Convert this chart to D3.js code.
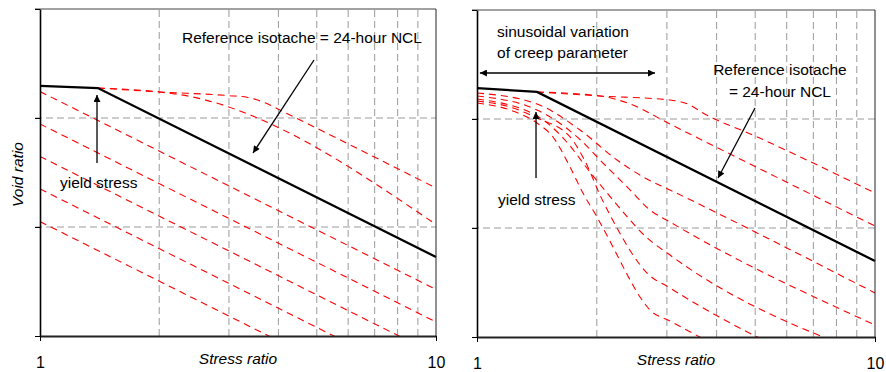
<!DOCTYPE html>
<html>
<head>
<meta charset="utf-8">
<script src="https://cdn.jsdelivr.net/npm/d3@7"></script>
<style>
body { margin: 0; background: #fff; }
svg text { font-family: "Liberation Sans", Arial, sans-serif; fill: #000; }
</style>
</head>
<body>
<svg id="chart" width="886" height="372"></svg>
<script>
// Ejes: stress ratio (log) y void ratio (lineal, sin numeros)
const xDomain = [1, 10]
const xTickValues = [1, 10]
const xGridValues = [2, 3, 4, 5, 6, 7, 8, 9]
const yDomain = [0, 3]
const yTickValues = [0, 1, 2, 3]
const yGridValues = [1, 2]

// Panel izquierdo: [stress ratio, void ratio]
const leftNcl = [[1, 2.294], [1.4, 2.275], [10, 0.725]]
const leftIsotaches = [
  [[1.4, 2.275], [2, 2.239], [3, 2.205], [3.333, 2.19], [3.7, 2.14], [4.156, 2.05], [10, 1.358]],
  [[1.4, 2.275], [2, 2.239], [2.25, 2.215], [10, 1.023]],
  [[1, 2.243], [10, 0.427]],
  [[1, 1.945], [10, 0.129]],
  [[1, 1.647], [10, -0.170]],
  [[1, 1.349], [10, -0.468]],
  [[1, 1.050], [10, -0.767]]
]

// Panel derecho (parametro de creep sinusoidal)
const rightNcl = [[1, 2.284], [1.415, 2.248], [10, 0.697]]
const rightIsotaches = [
  [[1.415, 2.248], [2.037, 2.211], [3.054, 2.174], [3.429, 2.128], [3.697, 2.055], [4.937, 1.853], [10, 1.321]],
  [[1.415, 2.248], [2.037, 2.211], [2.424, 2.138], [3.054, 1.954], [10, 1.018]],
  [[1, 2.239], [1.415, 2.138], [1.815, 1.899], [2.248, 1.624], [2.643, 1.459], [3.054, 1.349], [10, 0.404]],
  [[1, 2.211], [1.415, 2.083], [1.763, 1.853], [2.097, 1.578], [2.424, 1.349], [2.721, 1.165], [3.054, 1.055], [10, 0.110]],
  [[1, 2.183], [1.415, 2.028], [1.664, 1.807], [1.922, 1.514], [2.196, 1.257], [2.424, 1.073], [2.643, 0.927], [3.054, 0.752], [10, -0.183]],
  [[1, 2.165], [1.210, 2.110], [1.415, 2.009], [1.713, 1.835], [1.889, 1.578], [2.037, 1.303], [2.248, 1.000], [2.466, 0.752], [2.674, 0.587], [3.054, 0.450], [10, -0.491]],
  [[1, 2.147], [1.210, 2.083], [1.415, 1.963], [1.552, 1.835], [1.713, 1.560], [1.846, 1.321], [2.002, 1.101], [2.196, 0.826], [2.424, 0.523], [2.568, 0.367], [2.721, 0.248], [3.054, 0.147], [10, -0.794]]
]

svg = d3.select('#chart')

// flecha
defs = svg.append('defs')
defs.append('marker')
  .attr('id', 'head')
  .attr('viewBox', '0 0 10 10')
  .attr('refX', 10).attr('refY', 5)
  .attr('markerWidth', 9).attr('markerHeight', 7)
  .attr('markerUnits', 'userSpaceOnUse')
  .attr('orient', 'auto-start-reverse')
  .append('path').attr('d', 'M0,0 L10,5 L0,10 Z').attr('fill', '#000')

function panel(id, box, ncl, isotaches) {
  x = d3.scaleLog().domain(xDomain).range([box.x0, box.x1])
  y = d3.scaleLinear().domain(yDomain).range([box.y0, box.y1])
  g = svg.append('g')

  defs.append('clipPath').attr('id', 'clip' + id)
    .append('rect')
    .attr('x', box.x0).attr('y', box.y1)
    .attr('width', box.x1 - box.x0).attr('height', box.y0 - box.y1)

  // rejilla
  g.selectAll('.gx').data(xGridValues).join('line')
    .attr('x1', d => x(d)).attr('x2', d => x(d))
    .attr('y1', y(yDomain[0])).attr('y2', y(yDomain[1]))
    .attr('stroke', '#9a9a9a').attr('stroke-width', 1).attr('stroke-dasharray', '7,4')
  g.selectAll('.gy').data(yGridValues).join('line')
    .attr('x1', box.x0 - 5).attr('x2', box.x1)
    .attr('y1', d => y(d)).attr('y2', d => y(d))
    .attr('stroke', '#9a9a9a').attr('stroke-width', 1).attr('stroke-dasharray', '7,4')

  linea = d3.line().x(d => x(d[0])).y(d => y(d[1]))

  // isotachs rojas
  g.append('g').attr('clip-path', `url(#clip${id})`)
    .selectAll('path').data(isotaches).join('path')
    .attr('d', linea.curve(d3.curveMonotoneX))
    .attr('fill', 'none')
    .attr('stroke', '#ff0000')
    .attr('stroke-width', 1.1)
    .attr('stroke-dasharray', '7,5')

  // NCL de referencia
  g.append('path').datum(ncl)
    .attr('d', d3.line().x(d => x(d[0])).y(d => y(d[1])))
    .attr('fill', 'none').attr('stroke', '#000').attr('stroke-width', 2.3)

  // marco
  g.append('line').attr('x1', box.x0 - 5).attr('x2', box.x1)
    .attr('y1', y(yDomain[1])).attr('y2', y(yDomain[1]))
    .attr('stroke', '#444').attr('stroke-width', 1)
  g.append('line').attr('x1', box.x1).attr('x2', box.x1)
    .attr('y1', y(yDomain[1])).attr('y2', y(yDomain[0]))
    .attr('stroke', '#222').attr('stroke-width', 1)

  yAxis = g.append('g').attr('transform', `translate(${box.x0},0)`)
    .call(d3.axisLeft(y).tickValues(yTickValues).tickFormat('').tickSize(5).tickSizeOuter(0))
  yAxis.select('.domain').attr('stroke', '#000').attr('stroke-width', 1.6)

  xAxis = g.append('g').attr('transform', `translate(0,${box.y0})`)
    .call(d3.axisBottom(x).tickValues(xTickValues).tickFormat(d3.format('d')).tickSize(5).tickSizeOuter(0).tickPadding(16))
  xAxis.select('.domain').attr('stroke', '#222').attr('stroke-width', 2.2)
  xAxis.selectAll('text').attr('font-size', '16px').attr('font-family', '"Liberation Sans", Arial, sans-serif')

  // titulos de ejes
  g.append('text')
    .attr('x', (box.x0 + box.x1) / 2).attr('y', box.y0 + 28)
    .attr('text-anchor', 'middle').attr('font-size', '15.5px').attr('font-style', 'italic')
    .text('Stress ratio')

  yLab = g.append('text')
    .attr('transform', `translate(${box.x0 - 17},${(box.y0 + box.y1) / 2 + 2}) rotate(-90)`)
    .attr('text-anchor', 'middle').attr('font-size', '15.5px').attr('font-style', 'italic')
    .text('Void ratio')

  return { g: g, x: x, y: y, yLab: yLab }
}

function flecha(p, from, to) {
  p.g.append('line')
    .attr('x1', p.x(from[0])).attr('y1', p.y(from[1]))
    .attr('x2', p.x(to[0])).attr('y2', p.y(to[1]))
    .attr('stroke', '#000').attr('stroke-width', 1.3)
    .attr('marker-end', 'url(#head)')
}

function texto(p, at, s, anchor) {
  p.g.append('text')
    .attr('x', p.x(at[0])).attr('y', p.y(at[1]))
    .attr('text-anchor', anchor || 'start')
    .attr('font-size', '15.5px')
    .text(s)
}

/******** Panel izquierdo ********/
pl = panel('L', { x0: 40, x1: 436, y0: 336, y1: 9 }, leftNcl, leftIsotaches)
texto(pl, [4.587, 2.688], 'Reference isotache = 24-hour NCL', 'middle')
flecha(pl, [4.92, 2.532], [3.451, 1.679])
flecha(pl, [1.393, 1.587], [1.393, 2.211])
texto(pl, [1.123, 1.358], 'yield stress')

/******** Panel derecho ********/
pr = panel('R', { x0: 477, x1: 875, y0: 337, y1: 10 }, rightNcl, rightIsotaches)
texto(pr, [1.123, 2.752], 'sinusoidal variation')
texto(pr, [1.123, 2.560], 'of creep parameter')
pr.g.append('line')
  .attr('x1', pr.x(1.017)).attr('x2', pr.x(2.8))
  .attr('y1', pr.y(2.422)).attr('y2', pr.y(2.422))
  .attr('stroke', '#000').attr('stroke-width', 1.3)
  .attr('marker-start', 'url(#head)').attr('marker-end', 'url(#head)')
texto(pr, [5.77, 2.404], 'Reference isotache', 'middle')
texto(pr, [5.77, 2.202], '= 24-hour NCL', 'middle')
flecha(pr, [4.995, 2.101], [4.033, 1.459])
flecha(pr, [1.407, 1.459], [1.407, 2.064])
texto(pr, [1.129, 1.211], 'yield stress')

// la etiqueta del eje derecho sale recortada en el original
defs.append('clipPath').attr('id', 'clipLab')
  .append('rect').attr('x', 452).attr('y', 0).attr('width', 30).attr('height', 372)
pr.yLab.attr('clip-path', 'url(#clipLab)')
</script>
</body>
</html>
